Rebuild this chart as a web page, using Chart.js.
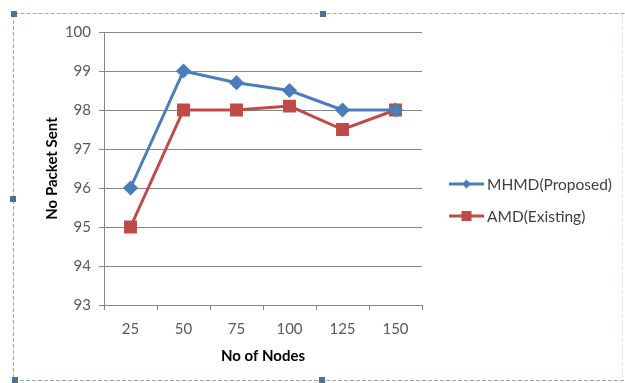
<!DOCTYPE html>
<html>
<head>
<meta charset="utf-8">
<script src="https://cdn.jsdelivr.net/npm/chart.js@4.4.1/dist/chart.umd.min.js"></script>
<style>
  html, body { margin: 0; padding: 0; background: #ffffff; }
  #wrap { position: relative; width: 625px; height: 383px; }
</style>
</head>
<body>
<div id="wrap"><canvas id="chart" width="625" height="383"></canvas></div>
<script>
// Number of nodes in the network
const nodes = ['25', '50', '75', '100', '125', '150'];
// Packets sent per scheme
const mhmdProposed = [96, 99, 98.7, 98.5, 98, 98];
const amdExisting = [95, 98, 98, 98.1, 97.5, 98];
const seriesNames = ['MHMD(Proposed)', 'AMD(Existing)'];
const yTicks = [93, 94, 95, 96, 97, 98, 99, 100];

const BLUE = '#4a7ebb';
const RED = '#be4b48';
const FONT = 'Lato, "Open Sans", sans-serif';

// Dashed selection frame with sizing handles around the chart object
const framePlugin = {
  id: 'frame',
  afterDraw(chart) {
    const ctx = chart.ctx;
    ctx.save();
    ctx.strokeStyle = '#9aaabd';
    ctx.lineWidth = 1;
    ctx.setLineDash([4, 2]);
    ctx.beginPath();
    ctx.moveTo(14.5, 13.5); ctx.lineTo(625, 13.5);
    ctx.moveTo(13.5, 14); ctx.lineTo(13.5, 380);
    ctx.moveTo(14, 380.5); ctx.lineTo(625, 380.5);
    ctx.stroke();
    ctx.strokeStyle = '#dde4ec';
    ctx.beginPath();
    ctx.moveTo(622.5, 14); ctx.lineTo(622.5, 380);
    ctx.stroke();
    ctx.setLineDash([]);
    ctx.fillStyle = '#4f6f93';
    [[14, 14], [323, 14], [13, 199], [15, 380], [322, 380]].forEach(([x, y]) => {
      ctx.fillRect(x - 3, y - 3, 6, 6);
    });
    ctx.restore();
  }
};

// Legend: line with centred marker, followed by the series name
const sideLegend = {
  id: 'sideLegend',
  afterDraw(chart) {
    const ctx = chart.ctx;
    ctx.save();
    const rows = [184, 216];
    chart.data.datasets.forEach((ds, i) => {
      const y = rows[i];
      ctx.strokeStyle = ds.borderColor;
      ctx.lineWidth = 3;
      ctx.beginPath();
      ctx.moveTo(449, y); ctx.lineTo(484, y);
      ctx.stroke();
      ctx.fillStyle = ds.borderColor;
      if (ds.pointStyle === 'rectRot') {
        ctx.beginPath();
        ctx.moveTo(466.5, y - 4.5); ctx.lineTo(471, y); ctx.lineTo(466.5, y + 4.5); ctx.lineTo(462, y);
        ctx.closePath(); ctx.fill();
      } else {
        ctx.fillRect(461.5, y - 5, 10, 10);
      }
      ctx.fillStyle = '#404040';
      ctx.font = '15.5px ' + FONT;
      ctx.textBaseline = 'middle';
      ctx.fillText(ds.label, 487, y + 1);
    });
    ctx.restore();
  }
};

new Chart(document.getElementById('chart'), {
  type: 'line',
  data: {
    labels: nodes,
    datasets: [
      {
        label: seriesNames[0],
        data: mhmdProposed,
        borderColor: BLUE,
        backgroundColor: BLUE,
        borderWidth: 3,
        pointStyle: 'rectRot',
        pointRadius: 5.5,
        pointHoverRadius: 5.5,
        tension: 0
      },
      {
        label: seriesNames[1],
        data: amdExisting,
        borderColor: RED,
        backgroundColor: RED,
        borderWidth: 3,
        pointStyle: 'rect',
        pointRadius: 7,
        pointHoverRadius: 7,
        tension: 0
      }
    ]
  },
  options: {
    responsive: false,
    animation: false,
    devicePixelRatio: 1,
    layout: { padding: { top: 32, right: 203, left: 39, bottom: 14 } },
    plugins: {
      legend: { display: false },
      tooltip: { enabled: false }
    },
    scales: {
      x: {
        offset: true,
        grid: {
          offset: true,
          drawOnChartArea: false,
          color: '#868686',
          tickLength: 5
        },
        border: { color: '#868686', width: 1 },
        ticks: { color: '#595959', font: { family: FONT, size: 15 }, padding: 10 },
        title: {
          display: true,
          text: 'No of Nodes',
          color: '#000000',
          font: { family: FONT, size: 15, weight: 'bold' },
          padding: { top: 6 }
        },
        afterFit(scale) { scale.height = 64; }
      },
      y: {
        min: 93,
        max: 100,
        afterBuildTicks(scale) { scale.ticks = yTicks.map(v => ({ value: v })); },
        grid: { color: '#868686', tickLength: 5 },
        border: { color: '#868686', width: 1 },
        ticks: { color: '#595959', font: { family: FONT, size: 15 }, padding: 8 },
        title: {
          display: true,
          text: 'No Packet Sent',
          color: '#000000',
          font: { family: FONT, size: 15, weight: 'bold' },
          padding: { bottom: 4 }
        },
        afterFit(scale) { scale.width = 65; }
      }
    }
  },
  plugins: [framePlugin, sideLegend]
});
</script>
</body>
</html>
